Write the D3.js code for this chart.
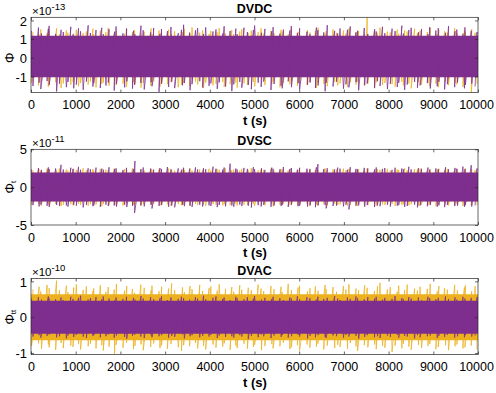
<!DOCTYPE html>
<html><head><meta charset="utf-8">
<script src="https://cdn.jsdelivr.net/npm/d3@7"></script>
<style>
body{margin:0;background:#fff}
text{font-family:"Liberation Sans",Arial,sans-serif;fill:#000}
</style>
</head><body>
<svg id="chart" width="496" height="393"></svg>
<script>
// ---------- DATA (min/max per 100 s window) ----------
const xTicks = [0,1000,2000,3000,4000,5000,6000,7000,8000,9000,10000];
const binStarts = d3.range(0, 10000, 100);
// time (s, within each 100 s window) where the max / min of that window occurs
const posA = [12,67,34,88,5,51,73,22,91,40,63,8,79,29,55,84,17,46,70,3,58,36,93,25,61,10,77,44,86,19,52,31,95,66,14,48,81,27,59,7,72,38,90,21,54,83,11,65,42,76,2,57,33,87,16,69,47,92,24,60,9,75,39,85,18,50,28,94,62,13,80,43,71,6,56,35,89,23,64,15,78,45,97,30,53,4,68,37,82,20,58,11,74,41,87,26,63,8,49,79];
const posB = [44,81,19,60,7,73,36,92,25,55,14,68,39,86,3,50,77,28,62,11,95,42,70,17,57,33,88,6,64,21,79,47,13,90,31,58,2,75,40,84,23,66,10,52,93,35,71,15,61,29,83,48,5,69,37,96,18,54,27,76,9,87,43,63,22,80,1,57,34,91,46,12,72,30,65,20,85,51,8,74,38,94,26,59,16,82,45,4,67,32,89,24,53,14,78,41,97,18,60,35];

// DVDC (x1e-13)
const dvdcPurpleCore = [-1.05, 1.18];
const dvdcOrangeCore = [-1.02, 1.15];
const dvdcPurpleHi = [1.45,1.62,1.30,1.55,1.71,1.28,1.50,1.38,1.66,1.25,1.58,1.42,1.74,1.33,1.49,1.61,1.27,1.53,1.40,1.68,1.31,1.57,1.45,1.26,1.72,1.48,1.36,1.60,1.29,1.54,1.43,1.65,1.32,1.50,1.77,1.35,1.47,1.59,1.28,1.63,1.41,1.52,1.30,1.69,1.44,1.56,1.27,1.61,1.38,1.49,1.73,1.34,1.55,1.42,1.64,1.29,1.51,1.46,1.70,1.33,1.58,1.40,1.26,1.62,1.48,1.36,1.75,1.44,1.31,1.57,1.50,1.68,1.35,1.45,1.60,1.28,1.53,1.41,1.66,1.32,1.56,1.43,1.72,1.30,1.49,1.61,1.37,1.54,1.27,1.64,1.46,1.59,1.34,1.70,1.42,1.51,1.29,1.63,1.45,1.38];
const dvdcPurpleLo = [-1.52,-1.34,-1.68,-1.25,-1.47,-1.81,-1.39,-1.58,-1.30,-1.64,-1.44,-1.72,-1.28,-1.55,-1.37,-1.62,-1.49,-1.33,-1.76,-1.41,-1.59,-1.27,-1.66,-1.45,-1.35,-1.70,-1.31,-1.53,-1.83,-1.40,-1.57,-1.29,-1.63,-1.48,-1.36,-1.74,-1.42,-1.26,-1.60,-1.51,-1.38,-1.67,-1.32,-1.55,-1.79,-1.43,-1.30,-1.61,-1.46,-1.69,-1.34,-1.56,-1.28,-1.73,-1.41,-1.50,-1.64,-1.27,-1.58,-1.37,-1.71,-1.45,-1.33,-1.62,-1.49,-1.80,-1.35,-1.54,-1.29,-1.66,-1.43,-1.59,-1.31,-1.75,-1.47,-1.38,-1.63,-1.26,-1.52,-1.68,-1.40,-1.57,-1.34,-1.72,-1.44,-1.30,-1.61,-1.48,-1.36,-1.65,-1.53,-1.29,-1.70,-1.42,-1.58,-1.33,-1.64,-1.46,-1.39,-1.55];
const dvdcOrangeHi = [1.38,1.25,1.52,1.31,1.44,1.58,1.27,1.47,1.35,1.29,1.50,1.33,1.41,1.56,1.26,1.45,1.37,1.60,1.30,1.43,1.28,1.54,1.36,1.48,1.32,1.40,1.57,1.27,1.46,1.34,1.51,1.29,1.42,1.38,1.55,1.31,1.63,1.35,1.47,1.28,1.44,1.36,1.59,1.30,1.49,1.27,1.41,1.53,1.33,1.46,1.37,1.58,1.29,1.45,1.32,1.50,1.40,1.26,1.55,1.39,1.31,1.48,1.35,1.43,1.61,1.28,1.42,1.52,1.34,1.46,1.30,1.57,1.38,1.44,1.27,2.15,1.49,1.33,1.62,1.40,1.36,1.51,1.29,1.47,1.41,1.55,1.32,1.45,1.38,1.60,1.28,1.50,1.43,1.35,1.58,1.31,1.46,1.39,1.53,1.34];
const dvdcOrangeLo = [-1.35,-1.48,-1.27,-1.56,-1.40,-1.31,-1.62,-1.38,-1.45,-1.29,-1.53,-1.36,-1.44,-1.28,-1.59,-1.41,-1.33,-1.50,-1.26,-1.47,-1.39,-1.57,-1.30,-1.43,-1.61,-1.34,-1.49,-1.27,-1.55,-1.37,-1.42,-1.31,-1.58,-1.46,-1.35,-1.52,-1.28,-1.44,-1.63,-1.33,-1.48,-1.39,-1.30,-1.56,-1.42,-1.34,-1.60,-1.37,-1.45,-1.29,-1.54,-1.32,-1.47,-1.40,-1.27,-1.58,-1.36,-1.43,-1.31,-1.51,-1.38,-1.46,-1.29,-1.62,-1.35,-1.41,-1.53,-1.30,-1.48,-1.37,-1.57,-1.33,-1.44,-1.28,-1.50,-1.39,-1.61,-1.32,-1.46,-1.36,-1.42,-1.55,-1.29,-1.49,-1.38,-1.64,-1.31,-1.45,-1.34,-1.52,-1.40,-1.58,-1.27,-1.47,-1.35,-1.43,-1.56,-1.30,-1.95,-1.41];

// DVSC (x1e-11)
const dvscPurpleCore = [-1.9, 1.95];
const dvscOrangeCore = [-1.85, 1.9];
const dvscPurpleHi = [2.35,2.52,2.28,2.61,2.40,2.47,2.95,2.33,2.56,2.42,2.68,2.30,2.49,2.37,2.58,2.44,2.31,2.63,2.39,2.50,2.27,2.55,2.41,3.45,2.36,2.60,2.45,2.32,2.53,2.40,2.66,2.34,2.48,2.29,2.57,2.43,2.62,2.35,2.51,2.38,2.70,2.44,2.31,2.59,3.10,2.46,2.33,2.54,2.41,2.65,2.37,2.49,2.28,2.58,2.43,2.35,2.67,2.40,2.52,2.31,2.56,2.44,2.36,2.62,3.05,2.39,2.50,2.33,2.58,2.45,2.30,2.64,2.42,2.37,2.55,2.48,2.34,2.60,2.41,2.53,2.29,2.57,2.46,2.38,2.69,2.35,2.51,2.43,2.59,2.32,2.48,2.40,2.63,2.36,2.54,2.44,2.71,2.39,2.90,2.47];
const dvscPurpleLo = [-2.38,-2.55,-2.30,-2.47,-2.62,-2.35,-2.50,-2.41,-2.58,-2.33,-2.45,-2.68,-2.36,-2.52,-2.40,-2.60,-2.32,-2.49,-2.43,-2.57,-2.34,-2.63,-2.46,-3.40,-2.39,-2.54,-2.31,-2.82,-2.48,-2.37,-2.59,-2.42,-2.66,-2.35,-2.51,-2.44,-2.61,-2.33,-2.56,-2.40,-2.47,-2.64,-2.36,-2.53,-2.42,-2.58,-2.31,-2.50,-2.45,-2.69,-2.38,-2.55,-2.34,-2.60,-2.43,-2.49,-2.37,-2.62,-2.32,-2.52,-2.46,-2.57,-2.39,-2.65,-2.41,-2.35,-2.80,-2.48,-2.44,-2.54,-2.33,-2.95,-2.47,-2.40,-2.59,-2.36,-2.63,-2.42,-2.51,-2.34,-2.56,-2.45,-2.38,-2.61,-2.49,-2.32,-2.67,-2.43,-2.53,-2.37,-2.58,-2.41,-2.64,-2.35,-2.50,-2.46,-2.60,-2.39,-2.55,-2.44];
const dvscOrangeHi = [2.25,2.38,2.18,2.44,2.30,2.22,2.47,2.33,2.20,2.41,2.28,2.50,2.24,2.36,2.19,2.43,2.31,2.26,2.46,2.21,2.39,2.27,2.48,2.23,2.35,2.20,2.42,2.29,2.37,2.24,2.45,2.32,2.19,2.40,2.26,2.49,2.22,2.34,2.28,2.43,2.21,2.38,2.30,2.46,2.25,2.33,2.20,2.41,2.27,2.52,2.23,2.36,2.29,2.44,2.19,2.39,2.31,2.24,2.47,2.28,2.35,2.22,2.42,2.30,2.26,2.50,2.21,2.37,2.33,2.45,2.25,2.40,2.19,2.34,2.29,2.48,2.23,2.38,2.31,2.43,2.20,2.36,2.27,2.51,2.24,2.39,2.32,2.46,2.22,2.35,2.28,2.44,2.26,2.41,2.30,2.37,2.21,2.49,2.33,2.25];
const dvscOrangeLo = [-2.31,-2.20,-2.44,-2.27,-2.38,-2.23,-2.49,-2.33,-2.26,-2.41,-2.19,-2.36,-2.46,-2.24,-2.30,-2.52,-2.22,-2.40,-2.28,-2.35,-2.43,-2.21,-2.37,-2.29,-2.47,-2.25,-2.34,-2.20,-2.42,-2.32,-2.27,-2.50,-2.23,-2.39,-2.30,-2.45,-2.21,-2.36,-2.28,-2.48,-2.24,-2.33,-2.41,-2.26,-2.38,-2.19,-2.44,-2.31,-2.35,-2.22,-2.46,-2.29,-2.40,-2.25,-2.53,-2.32,-2.20,-2.37,-2.27,-2.43,-2.34,-2.23,-2.49,-2.30,-2.39,-2.26,-2.42,-2.21,-2.36,-2.28,-2.45,-2.33,-2.24,-2.51,-2.31,-2.38,-2.22,-2.44,-2.29,-2.35,-2.20,-2.47,-2.34,-2.27,-2.40,-2.25,-2.43,-2.32,-2.37,-2.23,-2.48,-2.30,-2.26,-2.41,-2.35,-2.21,-2.46,-2.28,-2.39,-2.33];

// DVAC (x1e-10)
const dvacPurpleCore = [-0.46, 0.46];
const dvacOrangeCore = [-0.64, 0.64];
const dvacPurpleHi = [0.52,0.56,0.49,0.58,0.53,0.50,0.55,0.48,0.57,0.51,0.54,0.60,0.49,0.53,0.56,0.50,0.58,0.52,0.47,0.55,0.51,0.57,0.54,0.49,0.59,0.52,0.56,0.50,0.53,0.58,0.48,0.55,0.51,0.57,0.53,0.49,0.56,0.52,0.60,0.50,0.54,0.58,0.51,0.55,0.48,0.57,0.53,0.50,0.56,0.52,0.59,0.49,0.54,0.51,0.57,0.53,0.48,0.55,0.52,0.58,0.50,0.56,0.53,0.49,0.57,0.51,0.54,0.59,0.52,0.48,0.55,0.51,0.58,0.53,0.50,0.56,0.52,0.57,0.49,0.54,0.51,0.59,0.53,0.50,0.56,0.52,0.55,0.48,0.57,0.53,0.50,0.54,0.58,0.51,0.55,0.49,0.57,0.52,0.54,0.56];
const dvacPurpleLo = [-0.54,-0.50,-0.57,-0.52,-0.48,-0.56,-0.53,-0.59,-0.51,-0.55,-0.49,-0.54,-0.58,-0.52,-0.50,-0.56,-0.53,-0.48,-0.57,-0.51,-0.55,-0.60,-0.52,-0.49,-0.54,-0.58,-0.51,-0.56,-0.53,-0.50,-0.57,-0.52,-0.55,-0.48,-0.59,-0.53,-0.50,-0.56,-0.52,-0.54,-0.49,-0.58,-0.51,-0.55,-0.53,-0.57,-0.50,-0.54,-0.61,-0.52,-0.56,-0.48,-0.53,-0.58,-0.51,-0.55,-0.50,-0.57,-0.53,-0.49,-0.54,-0.59,-0.52,-0.56,-0.50,-0.55,-0.58,-0.51,-0.53,-0.57,-0.49,-0.54,-0.52,-0.60,-0.55,-0.50,-0.56,-0.53,-0.58,-0.51,-0.55,-0.49,-0.57,-0.52,-0.54,-0.59,-0.50,-0.56,-0.53,-0.51,-0.58,-0.52,-0.55,-0.49,-0.57,-0.53,-0.56,-0.50,-0.54,-0.52];
const dvacOrangeHi = [0.78,0.85,0.72,0.90,0.81,1.02,0.75,0.88,0.70,0.83,0.92,0.76,0.86,0.73,0.80,0.89,0.71,0.84,0.77,0.93,0.74,0.87,0.79,0.68,0.91,0.82,0.75,0.88,0.72,0.85,0.80,0.94,0.76,0.83,0.70,0.87,0.78,0.90,0.73,0.81,0.86,0.74,0.92,0.79,0.84,0.71,0.89,0.77,0.82,0.75,0.91,0.80,0.73,0.87,0.78,0.85,0.70,0.93,0.76,0.83,0.88,0.72,0.81,0.86,0.74,0.90,0.79,0.84,0.71,0.87,0.77,0.92,0.80,0.75,0.89,0.82,0.73,0.86,0.96,0.78,0.84,0.71,0.88,0.76,0.91,0.80,0.74,0.85,0.79,0.93,0.72,0.87,0.81,0.77,0.90,0.75,0.83,0.89,0.73,0.86];
const dvacOrangeLo = [-0.80,-0.73,-0.88,-0.76,-0.84,-0.91,-0.72,-0.86,-0.79,-0.83,-0.75,-0.90,-0.81,-0.74,-0.87,-0.78,-0.93,-0.82,-1.02,-0.77,-0.85,-0.71,-0.89,-0.80,-0.76,-0.92,-0.83,-0.73,-0.86,-0.79,-0.88,-0.75,-0.84,-0.94,-0.78,-0.81,-0.72,-0.87,-0.80,-0.90,-0.76,-0.85,-0.82,-0.73,-0.91,-0.79,-0.86,-0.74,-0.88,-0.83,-0.77,-0.92,-0.80,-0.75,-0.87,-0.81,-0.71,-0.89,-0.84,-0.78,-0.93,-0.76,-0.85,-0.82,-0.74,-0.90,-0.79,-0.86,-0.77,-0.83,-0.88,-0.72,-0.81,-0.94,-0.78,-0.84,-0.76,-0.89,-0.80,-0.85,-0.97,-0.79,-0.87,-0.74,-0.82,-0.91,-0.77,-0.86,-0.80,-0.75,-0.89,-0.83,-0.78,-0.92,-0.81,-0.76,-0.87,-0.84,-0.79,-0.90];

const colors = {orange:"#EDB120", purple:"#7E2F8E"};

// ---------- LAYOUT ----------
const X0 = 31, X1 = 478;
const panels = [
  {title:"DVDC", sub:"", exp:"-13", top:17.3, bottom:92.6, ydom:[-1.87,2.17], yticks:[-1,0,1,2],
   series:[{c:"orange",core:dvdcOrangeCore,hi:dvdcOrangeHi,lo:dvdcOrangeLo,ph:posB,pl:posA},
           {c:"purple",core:dvdcPurpleCore,hi:dvdcPurpleHi,lo:dvdcPurpleLo,ph:posA,pl:posB}]},
  {title:"DVSC", sub:"t", exp:"-11", top:149.3, bottom:225, ydom:[-5,5], yticks:[-5,0,5],
   series:[{c:"orange",core:dvscOrangeCore,hi:dvscOrangeHi,lo:dvscOrangeLo,ph:posB,pl:posA},
           {c:"purple",core:dvscPurpleCore,hi:dvscPurpleHi,lo:dvscPurpleLo,ph:posA,pl:posB}]},
  {title:"DVAC", sub:"tt", exp:"-10", top:278.5, bottom:354.5, ydom:[-1.04,1.08], yticks:[-1,0,1],
   series:[{c:"orange",core:dvacOrangeCore,hi:dvacOrangeHi,lo:dvacOrangeLo,ph:posB,pl:posA},
           {c:"purple",core:dvacPurpleCore,hi:dvacPurpleHi,lo:dvacPurpleLo,ph:posA,pl:posB}]}
];

const svg = d3.select("#chart");
const x = d3.scaleLinear().domain([0,10000]).range([X0,X1]);
const axisCol = "#262626";
const FONT = "Liberation Sans, Arial, sans-serif";

panels.forEach((p,pi)=>{
  const y = d3.scaleLinear().domain(p.ydom).range([p.bottom,p.top]);
  const g = svg.append("g");
  const clipId = "clip"+pi;
  svg.append("clipPath").attr("id",clipId).append("rect")
    .attr("x",X0).attr("y",p.top).attr("width",X1-X0).attr("height",p.bottom-p.top);
  const plot = g.append("g").attr("clip-path",`url(#${clipId})`);

  p.series.forEach(s=>{
    const area = d3.area().x(d=>x(d)).y0(y(s.core[0])).y1(y(s.core[1]));
    plot.append("path").datum([0,10000]).attr("d",area).attr("fill",colors[s.c]);
    const pts = [];
    binStarts.forEach((t,i)=>{
      pts.push([t+s.ph[i], s.hi[i]]);
      pts.push([t+s.pl[i], s.lo[i]]);
    });
    const line = d3.line().x(d=>x(d[0])).y(d=>y(d[1]));
    plot.append("path").datum(pts).attr("d",line).attr("fill","none")
      .attr("stroke",colors[s.c]).attr("stroke-width",0.85).attr("stroke-opacity",0.9);
  });

  g.append("rect").attr("x",X0).attr("y",p.top).attr("width",X1-X0).attr("height",p.bottom-p.top)
    .attr("fill","none").attr("stroke",axisCol).attr("stroke-width",0.7);

  const xa = d3.axisBottom(x).tickValues(xTicks).tickSizeInner(-3).tickSizeOuter(0).tickPadding(6)
    .tickFormat(d3.format("d"));
  const xg = g.append("g").attr("transform",`translate(0,${p.bottom})`).call(xa);
  xg.select(".domain").remove();
  xg.selectAll("line").attr("stroke",axisCol).attr("stroke-width",0.7);
  xg.selectAll("text").attr("font-size",12.5).attr("font-family",FONT)
    .attr("fill","#000").attr("dy",null).attr("y",16.5)
    .attr("dx",d=>d===10000?-2:0);
  const xt = d3.axisTop(x).tickValues(xTicks).tickSizeInner(-3).tickSizeOuter(0).tickFormat("");
  const xtg = g.append("g").attr("transform",`translate(0,${p.top})`).call(xt);
  xtg.select(".domain").remove();
  xtg.selectAll("line").attr("stroke",axisCol).attr("stroke-width",0.7);

  const ya = d3.axisLeft(y).tickValues(p.yticks).tickSizeInner(-3).tickSizeOuter(0)
    .tickFormat(d=>String(d));
  const yg = g.append("g").attr("transform",`translate(${X0},0)`).call(ya);
  yg.select(".domain").remove();
  yg.selectAll("line").attr("stroke",axisCol).attr("stroke-width",0.7);
  yg.selectAll("text").attr("font-size",13).attr("font-family",FONT)
    .attr("fill","#000").attr("x",-4).attr("dy","0.36em");
  const yr = d3.axisRight(y).tickValues(p.yticks).tickSizeInner(-3).tickSizeOuter(0).tickFormat("");
  const yrg = g.append("g").attr("transform",`translate(${X1},0)`).call(yr);
  yrg.select(".domain").remove();
  yrg.selectAll("line").attr("stroke",axisCol).attr("stroke-width",0.7);

  g.append("text").attr("x",(X0+X1)/2).attr("y",p.top-4).attr("text-anchor","middle")
    .attr("font-size",12.5).attr("font-weight","bold").text(p.title);

  g.append("text").attr("x",(X0+X1)/2+0.5).attr("y",p.bottom+32).attr("text-anchor","middle")
    .attr("font-size",13).attr("font-weight","bold").text("t (s)");

  const ex = g.append("text").attr("x",X0+1).attr("y",p.top-2.5).attr("font-size",11.5);
  ex.append("tspan").text("\u00d710");
  ex.append("tspan").attr("font-size",9.5).attr("dy",-5).text(p.exp);

  const yl = g.append("text").attr("transform",`translate(14,${y(0)}) rotate(-90)`)
    .attr("text-anchor","middle").attr("font-size",13);
  yl.append("tspan").text("\u03a6");
  if(p.sub) yl.append("tspan").attr("font-size",8).attr("dy",2).text(p.sub);
});
</script>
</body></html>
